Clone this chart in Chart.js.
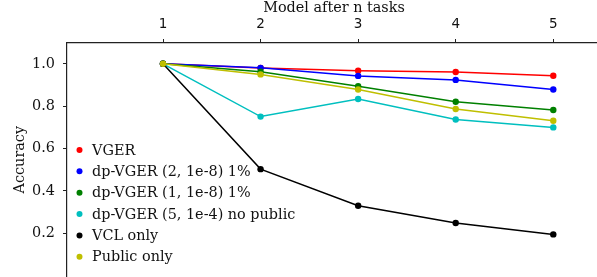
<!DOCTYPE html>
<html>
<head>
<meta charset="utf-8">
<script src="https://cdn.jsdelivr.net/npm/chart.js"></script>
<style>
  html, body { margin: 0; padding: 0; background: #fff; overflow: hidden; }
  #chart { display: block; }
</style>
</head>
<body>
<canvas id="chart" width="605" height="293"></canvas>
<script>
// Values
const tasks = [1, 2, 3, 4, 5];
const xTicks = [1, 2, 3, 4, 5];
const yTicks = [0.2, 0.4, 0.6, 0.8, 1.0];

const vger        = [1.0, 0.980, 0.967, 0.961, 0.944];
const dpVger2     = [1.0, 0.981, 0.943, 0.924, 0.879];
const dpVger1     = [1.0, 0.963, 0.894, 0.821, 0.782];
const dpVger5     = [1.0, 0.751, 0.834, 0.737, 0.700];
const vclOnly     = [1.0, 0.503, 0.330, 0.249, 0.195];
const publicOnly  = [1.0, 0.950, 0.879, 0.787, 0.731];

const seriesNames  = ['VGER', 'dp-VGER (2, 1e-8) 1%', 'dp-VGER (1, 1e-8) 1%',
                      'dp-VGER (5, 1e-4) no public', 'VCL only', 'Public only'];
const seriesValues = [vger, dpVger2, dpVger1, dpVger5, vclOnly, publicOnly];
const seriesColors = ['#ff0000', '#0000ff', '#008000', '#00bfbf', '#000000', '#bfbf00'];

const SERIF = '"DejaVu Serif", serif';
const SANS = '"DejaVu Sans", sans-serif';
const FS = 14.4;

const datasets = seriesValues.map((vals, i) => ({
  label: seriesNames[i],
  data: vals.map((v, j) => ({ x: tasks[j], y: v })),
  borderColor: seriesColors[i],
  backgroundColor: seriesColors[i],
  borderWidth: 1.5,
  pointRadius: 3.2,
  pointBorderWidth: 0,
  tension: 0,
  // matplotlib draws later lines on top
  order: seriesValues.length - i
}));

// legend drawn inside the plot, markers only
const innerLegend = {
  id: 'innerLegend',
  afterDraw(chart) {
    const ctx = chart.ctx;
    ctx.save();
    ctx.font = FS + 'px ' + SERIF;
    ctx.textBaseline = 'middle';
    chart.data.datasets.forEach((ds, i) => {
      const y = 150 + i * 21.35;
      ctx.fillStyle = ds.borderColor;
      ctx.beginPath();
      ctx.arc(79.5, y, 3, 0, Math.PI * 2);
      ctx.fill();
      ctx.fillStyle = '#111';
      ctx.fillText(ds.label, 92, y + 1);
    });
    ctx.restore();
  }
};

new Chart(document.getElementById('chart'), {
  type: 'line',
  data: { datasets },
  options: {
    responsive: false,
    animation: false,
    layout: { padding: { left: 12, right: 0, top: 0, bottom: 12 } },
    plugins: { legend: { display: false }, tooltip: { enabled: false } },
    scales: {
      x: {
        type: 'linear',
        position: 'top',
        min: 0.0161,
        max: 5.489,
        afterBuildTicks: s => { s.ticks = xTicks.map(v => ({ value: v })); },
        afterFit: s => { s.height = 43; },
        ticks: {
          color: '#111',
          font: { family: SANS, size: 13.5 },
          padding: 6,
          maxRotation: 0,
          callback: v => String(v)
        },
        grid: { drawOnChartArea: false, drawTicks: true, tickLength: 4, color: '#222', tickWidth: 1 },
        border: { display: true, color: '#222', width: 1.2 },
        title: {
          display: true,
          text: 'Model after n tasks',
          color: '#111',
          font: { family: SERIF, size: FS },
          padding: { top: 0, bottom: 0 }
        }
      },
      y: {
        type: 'linear',
        min: -0.003,
        max: 1.0982,
        afterBuildTicks: s => { s.ticks = yTicks.map(v => ({ value: v })); },
        afterFit: s => { s.width = 55; },
        ticks: {
          color: '#111',
          font: { family: SERIF, size: FS },
          padding: 8,
          callback: v => v.toFixed(1)
        },
        grid: { drawOnChartArea: false, drawTicks: true, tickLength: 4, color: '#222', tickWidth: 1 },
        border: { display: true, color: '#222', width: 1.2 },
        title: {
          display: true,
          text: 'Accuracy',
          color: '#111',
          font: { family: SERIF, size: FS },
          padding: { top: 0, bottom: 0 }
        }
      }
    }
  },
  plugins: [innerLegend]
});
</script>
</body>
</html>
